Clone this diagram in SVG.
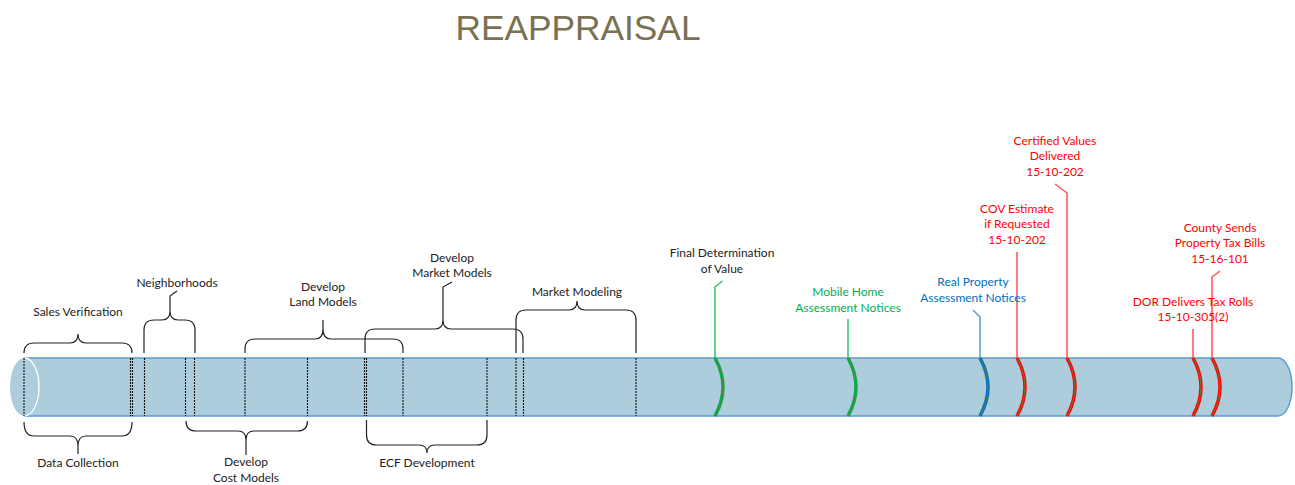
<svg xmlns="http://www.w3.org/2000/svg" width="1295" height="485" viewBox="0 0 1295 485">
<style>
.lbl{font-family:Lato,"Liberation Sans",sans-serif;font-size:12px;text-anchor:middle;fill:#222}
.g{fill:#00B050}.b{fill:#0070C0}.r{fill:#FF0000}
.brace{fill:none;stroke:#222;stroke-width:1.2}
.dot{stroke:#111;stroke-width:1.1;stroke-dasharray:2 1}
.arcG{fill:none;stroke:#00B050;stroke-width:3.5}
.arcB{fill:none;stroke:#0070C0;stroke-width:3.5}
.arcR{fill:none;stroke:#FF0000;stroke-width:3.5}
.arcIn{fill:none;stroke:#6E7A3A;stroke-width:1}
.lnG{fill:none;stroke:#33C16B;stroke-width:1.5}
.lnB{fill:none;stroke:#5B9BD5;stroke-width:1.5}
.lnR{fill:none;stroke:#FF5050;stroke-width:1.5}
</style>
<rect width="1295" height="485" fill="#fff"/>
<text x="578" y="40" font-family="Liberation Sans,sans-serif" font-size="35" fill="#7A7052" text-anchor="middle" textLength="245" lengthAdjust="spacingAndGlyphs">REAPPRAISAL</text>

<g id="cylinder">
<path d="M24,358 H1278 A14,29 0 0 1 1278,416 H24 Z" fill="#AECDDC"/>
<path d="M24,358 H1278 A14,29 0 0 1 1278,416 H24" fill="none" stroke="#5B9BD5" stroke-width="1.5"/>
<ellipse cx="24.5" cy="387" rx="14.5" ry="29" fill="#AECDDC"/>
<path d="M24.5,358 A14.5,29 0 0 1 24.5,416" fill="none" stroke="#fff" stroke-width="1.3"/>
</g>

<g id="dividers">
<line class="dot" x1="24" y1="358" x2="24" y2="416"/>
<line class="dot" x1="130.5" y1="358" x2="130.5" y2="416"/>
<line class="dot" x1="132.5" y1="358" x2="132.5" y2="416"/>
<line class="dot" x1="144.5" y1="358" x2="144.5" y2="416"/>
<line class="dot" x1="185.5" y1="358" x2="185.5" y2="416"/>
<line class="dot" x1="194.5" y1="358" x2="194.5" y2="416"/>
<line class="dot" x1="245" y1="358" x2="245" y2="416"/>
<line class="dot" x1="307.5" y1="358" x2="307.5" y2="416"/>
<line class="dot" x1="364.5" y1="358" x2="364.5" y2="416"/>
<line class="dot" x1="366.5" y1="358" x2="366.5" y2="416"/>
<line class="dot" x1="403" y1="358" x2="403" y2="416"/>
<line class="dot" x1="487" y1="358" x2="487" y2="416"/>
<line class="dot" x1="516" y1="358" x2="516" y2="416"/>
<line class="dot" x1="523.5" y1="358" x2="523.5" y2="416"/>
<line class="dot" x1="636" y1="358" x2="636" y2="416"/>
</g>

<g id="connectors">
<path class="brace" d="M24,353 Q24,343 34,343 H70 Q78,343 78,334 Q78,343 86,343 H122 Q132,343 132,353"/>
<path class="brace" d="M24,422 Q24,436 34,436 H70 Q78,436 78,446 Q78,436 86,436 H122 Q132,436 132,422 M78,446 V454"/>
<path class="brace" d="M144,353 V330 Q144,320 154,320 H162 Q170,320 170,311 Q170,320 178,320 H185 Q195,320 195,330 V353 M170,311 V296 L177,291"/>
<path class="brace" d="M186,421 Q186,431 196,431 H238 Q246,431 246,440 Q246,431 254,431 H297.5 Q307.5,431 307.5,421 M246,440 V455"/>
<path class="brace" d="M245,353 V349 Q245,339 255,339 H315 Q323,339 323,329 Q323,339 331,339 H393 Q403,339 403,349 V353 M323,329 V320"/>
<path class="brace" d="M365,353 V339 Q365,329 375,329 H435 Q443,329 443,320 Q443,329 451,329 H513 Q523,329 523,339 V353 M443,320 V287 L452,282"/>
<path class="brace" d="M366.5,420 V435 Q366.5,445 376.5,445 H419 Q427,445 427,453 Q427,445 435,445 H477 Q487,445 487,435 V420"/>
<path class="brace" d="M516,353 V320 Q516,310 526,310 H569 Q577,310 577,301 Q577,310 585,310 H626 Q636,310 636,320 V353"/>
<path class="lnG" d="M715,358 V287 L722.5,281"/>
<path class="lnG" d="M848,358 V319"/>
<path class="lnB" d="M980,358 V317 L973,310"/>
<path class="lnR" d="M1017,358 V252"/>
<path class="lnR" d="M1067,358 V193 L1055,184"/>
<path class="lnR" d="M1193,358 V329"/>
<path class="lnR" d="M1212,358 V277 L1220,271"/>
</g>

<g id="markers">
<path class="arcG" d="M715,358 Q731,387 715,416"/><path class="arcIn" d="M715,358 Q731,387 715,416" stroke="#2E8B3A"/>
<path class="arcG" d="M848,358 Q864,387 848,416"/><path class="arcIn" d="M848,358 Q864,387 848,416" stroke="#2E8B3A"/>
<path class="arcB" d="M980,358 Q996,387 980,416"/><path class="arcIn" d="M980,358 Q996,387 980,416"/>
<path class="arcR" d="M1017,358 Q1033,387 1017,416"/><path class="arcIn" d="M1017,358 Q1033,387 1017,416"/>
<path class="arcR" d="M1067,358 Q1083,387 1067,416"/><path class="arcIn" d="M1067,358 Q1083,387 1067,416"/>
<path class="arcR" d="M1193,358 Q1209,387 1193,416"/><path class="arcIn" d="M1193,358 Q1209,387 1193,416"/>
<path class="arcR" d="M1212,358 Q1228,387 1212,416"/><path class="arcIn" d="M1212,358 Q1228,387 1212,416"/>
</g>

<g id="sales-verification"><text class="lbl" x="78" y="316">Sales Verification</text></g>
<g id="data-collection"><text class="lbl" x="78" y="467">Data Collection</text></g>
<g id="neighborhoods"><text class="lbl" x="177" y="287">Neighborhoods</text></g>
<g id="cost-models"><text class="lbl" x="246" y="466">Develop</text><text class="lbl" x="246" y="482">Cost Models</text></g>
<g id="land-models"><text class="lbl" x="323" y="291">Develop</text><text class="lbl" x="323" y="306">Land Models</text></g>
<g id="market-models"><text class="lbl" x="452" y="262">Develop</text><text class="lbl" x="452" y="277">Market Models</text></g>
<g id="ecf-development"><text class="lbl" x="427" y="467">ECF Development</text></g>
<g id="market-modeling"><text class="lbl" x="577" y="296">Market Modeling</text></g>
<g id="final-determination"><text class="lbl" x="722" y="257">Final Determination</text><text class="lbl" x="722" y="273">of Value</text></g>
<g id="mobile-home"><text class="lbl g" x="848" y="296">Mobile Home</text><text class="lbl g" x="848" y="312">Assessment Notices</text></g>
<g id="real-property"><text class="lbl b" x="973" y="286">Real Property</text><text class="lbl b" x="973" y="302">Assessment Notices</text></g>
<g id="cov-estimate"><text class="lbl r" x="1017" y="213">COV Estimate</text><text class="lbl r" x="1017" y="228">if Requested</text><text class="lbl r" x="1017" y="244">15-10-202</text></g>
<g id="certified-values"><text class="lbl r" x="1055" y="145">Certified Values</text><text class="lbl r" x="1055" y="160">Delivered</text><text class="lbl r" x="1055" y="176">15-10-202</text></g>
<g id="dor-delivers"><text class="lbl r" x="1193" y="306">DOR Delivers Tax Rolls</text><text class="lbl r" x="1193" y="321">15-10-305(2)</text></g>
<g id="county-sends"><text class="lbl r" x="1220" y="232">County Sends</text><text class="lbl r" x="1220" y="247">Property Tax Bills</text><text class="lbl r" x="1220" y="263">15-16-101</text></g>
</svg>
